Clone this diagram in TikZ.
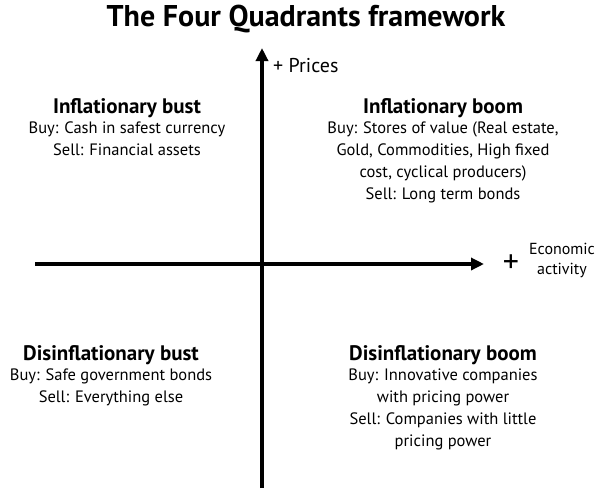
\documentclass[tikz,border=0pt]{standalone}
\usepackage{fontspec}
\setmainfont{PT Sans}
\usepackage{tikz}
\usetikzlibrary{arrows.meta, positioning}

\begin{document}
\begin{tikzpicture}[x=1pt, y=-1pt,
  axis/.style={line width=3.5pt, -{Triangle[length=13pt, width=12pt]}},
  quad/.style={align=center, font=\fontsize{16.5}{22}\selectfont, inner sep=0pt},
  head/.style={font=\fontsize{21}{24}\selectfont\bfseries, inner sep=0pt}]
  \useasboundingbox (0,0) rectangle (613,488);

  % Title
  \node[font=\fontsize{30}{34}\selectfont\bfseries] (title) at (306,19) {The Four Quadrants framework};

  % Axes
  \coordinate (ybot) at (262,488);
  \coordinate (ytop) at (262,48);
  \coordinate (xleft) at (35,264);
  \coordinate (xright) at (484,264);
  \draw[axis] (ybot) -- (ytop);
  \draw[axis] (xleft) -- (xright);
  \node[quad, font=\fontsize{20}{22}\selectfont, anchor=west] (prices) at (273,66) {+ Prices};
  \node[font=\fontsize{32}{32}\selectfont, inner sep=0pt] (plus) at (511,264) {+};
  \node[quad, font=\fontsize{16}{20}\selectfont] (econ) at (562,260) {Economic\\activity};

  % Top left: Inflationary bust
  \node[head] (ibust) at (127,108) {Inflationary bust};
  \node[quad, below=4pt of ibust] (ibusttxt) {Buy: Cash in safest currency\\Sell: Financial assets};

  % Top right: Inflationary boom
  \node[head] (iboom) at (443,108) {Inflationary boom};
  \node[quad, below=4pt of iboom] (iboomtxt) {Buy: Stores of value (Real estate,\\Gold, Commodities, High fixed\\cost, cyclical producers)\\Sell: Long term bonds};

  % Bottom left: Disinflationary bust
  \node[head] (dbust) at (111,355) {Disinflationary bust};
  \node[quad, below=4pt of dbust] (dbusttxt) {Buy: Safe government bonds\\Sell: Everything else};

  % Bottom right: Disinflationary boom
  \node[head] (dboom) at (443,355) {Disinflationary boom};
  \node[quad, below=4pt of dboom] (dboomtxt) {Buy: Innovative companies\\with pricing power\\Sell: Companies with little\\pricing power};
\end{tikzpicture}
\end{document}
